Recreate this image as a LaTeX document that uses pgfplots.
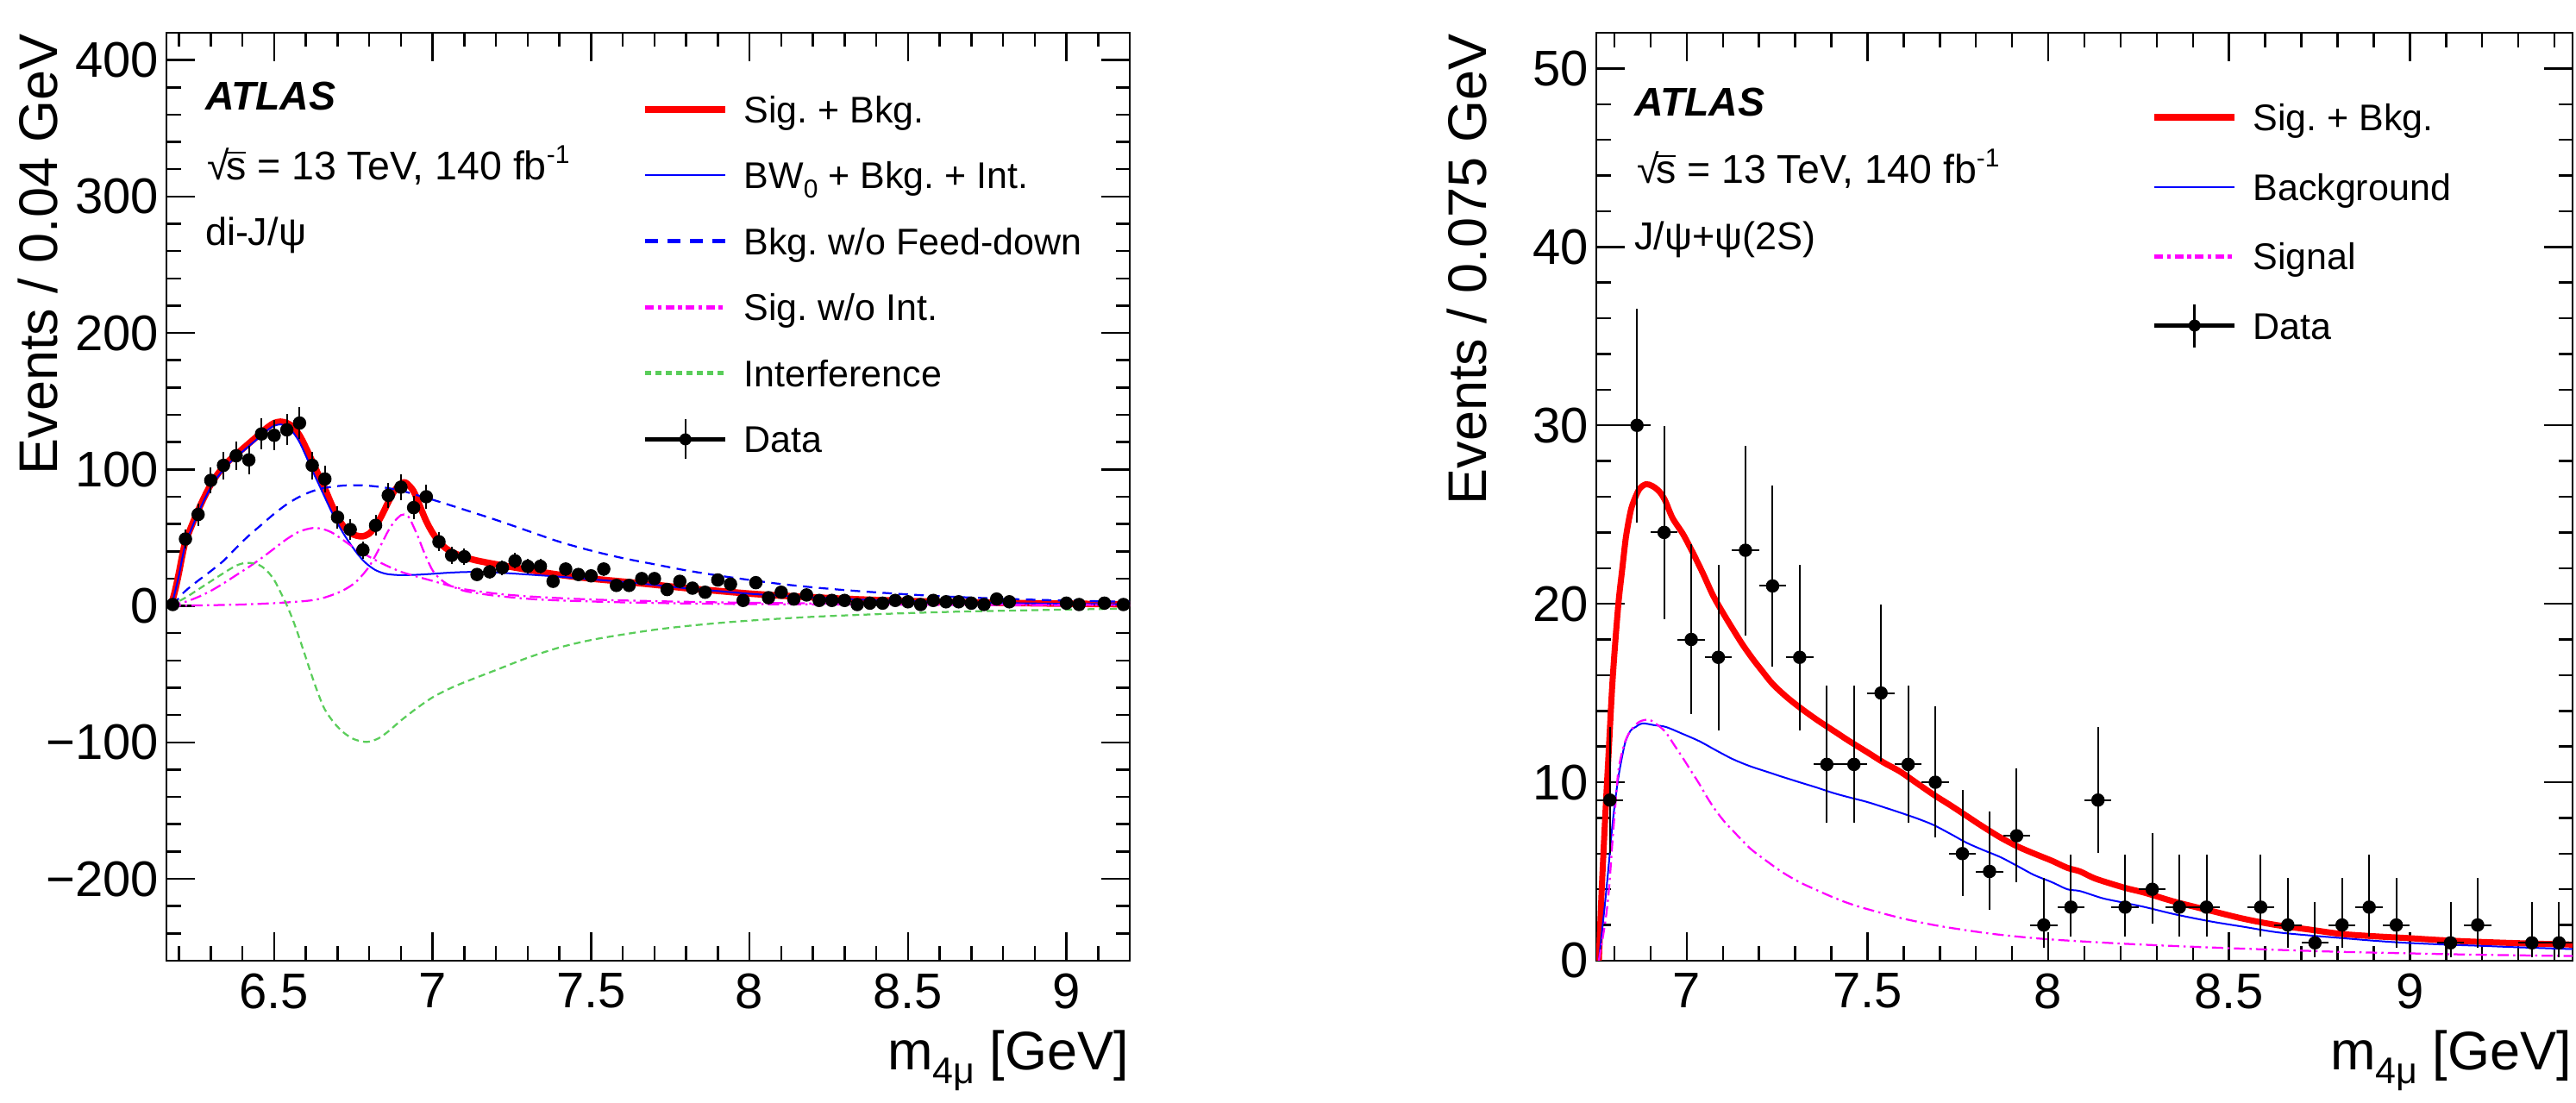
\documentclass[border=0pt]{standalone}
\usepackage{fontspec}
\setmainfont{Liberation Sans}
\usepackage{pgfplots}
\usepackage{pgfplotstable}
\pgfplotsset{compat=1.18}
\frenchspacing

\definecolor{rred}{RGB}{255,0,0}
\definecolor{rblue}{RGB}{0,0,255}
\definecolor{rmag}{RGB}{255,0,255}
\definecolor{rgreen}{RGB}{90,205,90}

\newcommand{\sqrts}{√\kern-0.7pt\vbox{\hrule height 0.45pt\kern 1.2pt\hbox{s}}}
\newcommand{\fAtlas}{\fontsize{9.3}{11}\selectfont}
\newcommand{\fEn}{\fontsize{9.3}{11}\selectfont}
\newcommand{\fCh}{\fontsize{9}{11}\selectfont}
\newcommand{\fLeg}{\fontsize{8.6}{10}\selectfont}
\newcommand{\fTick}{\fontsize{11.6}{13}\selectfont}
\newcommand{\fLab}{\fontsize{12.6}{14}\selectfont}

\pgfplotstableread{
x y ex ey
6.18 1 0.02 1
6.22 49 0.02 7.0
6.26 67 0.02 8.2
6.30 92 0.02 9.6
6.34 103 0.02 10.1
6.38 110 0.02 10.5
6.42 107 0.02 10.3
6.46 126 0.02 11.2
6.50 125 0.02 11.2
6.54 129 0.02 11.4
6.58 134 0.02 11.6
6.62 103 0.02 10.1
6.66 93 0.02 9.6
6.70 65 0.02 8.1
6.74 56 0.02 7.5
6.78 41 0.02 6.4
6.82 59 0.02 7.7
6.86 81 0.02 9.0
6.90 87 0.02 9.3
6.94 72 0.02 8.5
6.98 80 0.02 8.9
7.02 47 0.02 6.9
7.06 37 0.02 6.1
7.10 36 0.02 6.0
7.14 23 0.02 4.8
7.18 25 0.02 5.0
7.22 28 0.02 5.3
7.26 33 0.02 5.7
7.30 29 0.02 5.4
7.34 29 0.02 5.4
7.38 18 0.02 4.2
7.42 27 0.02 5.2
7.46 23 0.02 4.8
7.50 22 0.02 4.7
7.54 27 0.02 5.2
7.58 15 0.02 3.9
7.62 15 0.02 3.9
7.66 20 0.02 4.5
7.70 20 0.02 4.5
7.74 12 0.02 3.5
7.78 18 0.02 4.2
7.82 13 0.02 3.6
7.86 10 0.02 3.2
7.90 19 0.02 4.4
7.94 16 0.02 4.0
7.98 4 0.02 2.0
8.02 17 0.02 4.1
8.06 6 0.02 2.4
8.10 10 0.02 3.2
8.14 5 0.02 2.2
8.18 8 0.02 2.8
8.22 4 0.02 2.0
8.26 4 0.02 2.0
8.30 4 0.02 2.0
8.34 1 0.02 1.0
8.38 2 0.02 1.4
8.42 2 0.02 1.4
8.46 4 0.02 2.0
8.50 3 0.02 1.7
8.54 1 0.02 1.0
8.58 4 0.02 2.0
8.62 3 0.02 1.7
8.66 3 0.02 1.7
8.70 2 0.02 1.4
8.74 1 0.02 1.0
8.78 5 0.02 2.2
8.82 3 0.02 1.7
9.00 2 0.02 1.4
9.04 1 0.02 1.0
9.12 2 0.02 1.4
9.18 1 0.02 1.0
}\dijpsi

\pgfplotstableread{
x y ex em ep
6.7875 9 0.0375 2.94 4.11
6.8625 30 0.0375 5.44 6.53
6.9375 24 0.0375 4.86 5.96
7.0125 18 0.0375 4.20 5.32
7.0875 17 0.0375 4.08 5.20
7.1625 23 0.0375 4.76 5.86
7.2375 21 0.0375 4.54 5.65
7.3125 17 0.0375 4.08 5.20
7.3875 11 0.0375 3.27 4.42
7.4625 11 0.0375 3.27 4.42
7.5375 15 0.0375 3.83 4.95
7.6125 11 0.0375 3.27 4.42
7.6875 10 0.0375 3.11 4.27
7.7625 6 0.0375 2.38 3.58
7.8375 5 0.0375 2.16 3.38
7.9125 7 0.0375 2.58 3.77
7.9875 2 0.0375 1.29 2.64
8.0625 3 0.0375 1.63 2.92
8.1375 9 0.0375 2.94 4.11
8.2125 3 0.0375 1.63 2.92
8.2875 4 0.0375 1.91 3.16
8.3625 3 0.0375 1.63 2.92
8.4375 3 0.0375 1.63 2.92
8.5875 3 0.0375 1.63 2.92
8.6625 2 0.0375 1.29 2.64
8.7375 1 0.0375 0.83 2.30
8.8125 2 0.0375 1.29 2.64
8.8875 3 0.0375 1.63 2.92
8.9625 2 0.0375 1.29 2.64
9.1125 1 0.0375 0.83 2.30
9.1875 2 0.0375 1.29 2.64
9.3375 1 0.0375 0.83 2.30
9.4125 1 0.0375 0.83 2.30
}\jpsipsi

\pgfplotsset{
  atlasaxis/.style={
    scale only axis,
    axis line style={line width=0.5pt, black},
    tick align=inside, tick pos=both,
    major tick length=6.6pt, minor tick length=3.3pt,
    tick style={black, line width=0.5pt},
    /pgf/number format/assume math mode=true,
    ticklabel style={font=\fTick},
    xticklabel style={inner sep=0pt, anchor=north, yshift=-2.8pt},
    yticklabel style={inner sep=0pt, anchor=east, xshift=-1.6pt},
    every axis x label/.style={at={(rel axis cs:1,0)}, anchor=base east, inner sep=0pt, yshift=-25.4pt, font=\fLab},
    every axis y label/.style={at={(rel axis cs:-0.113,1)}, rotate=90, anchor=base east, inner sep=0pt, font=\fLab},
    legend cell align=left,
    legend image code/.code={\draw[##1,line cap=butt] (0pt,0pt) -- (18.6pt,0pt);},
    error bars/error mark=none,
  },
  datastyle/.style={only marks, mark=*, mark size=1.4pt, black, mark options={fill=black, line width=0.3pt},
    legend image code/.code={
      \draw[black,line width=0.9pt] (0pt,0pt) -- (18.6pt,0pt);
      \draw[black,line width=0.5pt,overlay] (9.3pt,-#1) -- (9.3pt,#1);
      \fill[black] (9.3pt,0pt) circle (1.2pt);
    }},
}

\begin{document}
\begin{tikzpicture}
\path[use as bounding box] (0pt,0pt) rectangle (597.4pt,255.8pt);

% ---------------- left panel ----------------
\begin{axis}[atlasaxis,
  at={(38.6pt,33pt)}, anchor=south west, width=223.4pt, height=215.2pt,
  xmin=6.16, xmax=9.2, ymin=-260, ymax=420,
  xtick={6.5,7,7.5,8,8.5,9}, xticklabels={6.5,7,7.5,8,8.5,9},
  minor xtick={6.2,6.3,6.4,6.6,6.7,6.8,6.9,7.1,7.2,7.3,7.4,7.6,7.7,7.8,7.9,8.1,8.2,8.3,8.4,8.6,8.7,8.8,8.9,9.1},
  ytick={-200,-100,0,100,200,300,400}, yticklabels={−200,−100,0,100,200,300,400},
  minor ytick={-240,-220,-180,-160,-140,-120,-80,-60,-40,-20,20,40,60,80,120,140,160,180,220,240,260,280,320,340,360,380},
  xlabel={m\raisebox{-3.2pt}{\fontsize{8.6}{9}\selectfont 4μ} [GeV]},
  ylabel={Events / 0.04 GeV},
  legend style={at={(0.4933,0.9317)}, anchor=north west, draw=none, fill=none, inner sep=0pt, outer sep=0pt,
    row sep=9.1pt, font=\fLeg, nodes={inner sep=0pt, text height=6.2pt, text depth=0pt},
    /tikz/every odd column/.append style={column sep=3.4pt}},
]
\addplot[rred, line width=1.5pt, smooth, tension=0.5, line join=round,
  legend image post style={line width=1.7pt}] coordinates {
(6.17,0) (6.18,5) (6.19,14) (6.20,25) (6.21,37) (6.22,47) (6.24,59) (6.26,70) (6.28,80) (6.30,89)
(6.32,96) (6.34,102) (6.36,107) (6.38,111) (6.40,115) (6.42,119) (6.44,123) (6.46,127) (6.48,131)
(6.50,134) (6.52,135) (6.54,134) (6.56,131) (6.58,125) (6.60,116) (6.62,106) (6.64,96) (6.66,86)
(6.68,75) (6.70,65) (6.72,58) (6.74,53.5) (6.76,51.5) (6.78,51) (6.80,53) (6.82,58.5) (6.84,66.5)
(6.86,76) (6.88,84.5) (6.90,89.5) (6.91,90.5) (6.92,89.5) (6.94,84) (6.96,73) (6.98,62) (7.00,53.5)
(7.02,47) (7.04,42.5) (7.06,39.5) (7.08,37.5) (7.10,35.7) (7.14,33.2) (7.20,30.5) (7.30,26.5)
(7.40,22.8) (7.50,20) (7.60,17.8) (7.70,15.5) (7.80,13) (7.90,11) (8.00,9) (8.10,7.5) (8.20,6.3)
(8.30,5.2) (8.40,4.3) (8.50,3.6) (8.60,3.0) (8.70,2.6) (8.80,2.2) (8.90,1.9) (9.00,1.6) (9.10,1.4) (9.20,1.2)};
\addlegendentry{Sig. + Bkg.}
\addplot[rblue, line width=0.4pt, smooth, tension=0.5] coordinates {
(6.17,0) (6.18,4) (6.19,13) (6.20,23) (6.21,35) (6.22,45) (6.24,57) (6.26,68) (6.28,78) (6.30,87)
(6.32,94) (6.34,100) (6.36,105) (6.38,109) (6.40,113) (6.42,117) (6.44,121) (6.46,125) (6.48,129)
(6.50,132) (6.52,133) (6.54,131.5) (6.56,127) (6.58,120) (6.60,110) (6.62,99.5) (6.64,89.5) (6.66,79.5)
(6.68,69.5) (6.70,60.5) (6.72,52.5) (6.74,45.5) (6.76,39) (6.78,33.5) (6.80,29.3) (6.82,26.2) (6.84,24.3)
(6.86,23.2) (6.90,22.5) (6.95,22.8) (7.00,23.5) (7.05,24.3) (7.10,24.8) (7.15,24.9) (7.20,24.5) (7.30,23)
(7.40,21.4) (7.50,19.5) (7.60,17.6) (7.70,15.4) (7.80,12.9) (7.90,10.9) (8.00,8.9) (8.10,7.4) (8.20,6.2)
(8.30,5.1) (8.40,4.2) (8.50,3.5) (8.60,2.9) (8.70,2.5) (8.80,2.1) (8.90,1.8) (9.00,1.5) (9.10,1.3) (9.20,1.1)};
\addlegendentry{BW\raisebox{-2.2pt}{\fontsize{6}{7}\selectfont 0} + Bkg. + Int.}
\addplot[rblue, line width=0.45pt, dash pattern=on 2.2pt off 1.5pt, smooth, tension=0.5,
  legend image post style={line width=1pt, dash pattern=on 3pt off 2.2pt}] coordinates {
(6.18,0) (6.20,6) (6.22,11) (6.26,18.5) (6.30,25.5) (6.34,33) (6.38,42.5) (6.42,51.5) (6.46,59.5)
(6.50,67.5) (6.54,74.5) (6.58,80) (6.62,84) (6.66,86.5) (6.72,88.2) (6.78,88.3) (6.84,87) (6.90,84.5)
(6.95,81.2) (7.00,77.8) (7.05,74.2) (7.10,70.5) (7.20,63) (7.30,55) (7.40,47) (7.50,40.5) (7.60,35)
(7.70,30.5) (7.80,26) (7.90,22.3) (8.00,19) (8.10,16) (8.20,13.6) (8.30,11.6) (8.40,9.9) (8.50,8.4)
(8.60,7.1) (8.70,6.1) (8.80,5.2) (8.90,4.5) (9.00,3.9) (9.10,3.4) (9.20,3.0)};
\addlegendentry{Bkg. w/o Feed-down}
\addplot[rmag, line width=0.45pt, dash pattern=on 2.6pt off 1pt on 0.5pt off 1pt, smooth, tension=0.5,
  legend image post style={line width=1pt, dash pattern=on 2pt off 0.9pt on 0.9pt off 0.9pt}] coordinates {
(6.17,0) (6.22,3) (6.26,6.5) (6.30,11) (6.34,16.5) (6.38,22.5) (6.42,28.5) (6.46,35) (6.50,42) (6.54,49)
(6.58,54.5) (6.62,57) (6.65,56.5) (6.68,54) (6.71,49.5) (6.75,43) (6.80,36) (6.85,30) (6.90,25) (6.95,21.5)
(7.00,18.3) (7.05,15) (7.10,12.2) (7.20,9) (7.30,7) (7.40,5.7) (7.50,4.7) (7.60,4) (7.80,3) (8.00,2.3)
(8.30,1.6) (8.60,1.2) (9.00,0.8) (9.20,0.7)};
\addlegendentry{Sig. w/o Int.}
\addplot[rmag, line width=0.45pt, dash pattern=on 2.6pt off 1pt on 0.5pt off 1pt, smooth, tension=0.5, forget plot] coordinates {
(6.17,0) (6.30,0.5) (6.40,1) (6.50,2) (6.60,3.6) (6.65,5.5) (6.70,9.5) (6.73,13) (6.755,17) (6.78,23)
(6.80,29) (6.82,37) (6.84,46) (6.86,55) (6.88,62) (6.90,66.5) (6.91,67) (6.925,65) (6.94,58) (6.955,50)
(6.97,41) (6.985,33) (7.00,26) (7.02,20.5) (7.05,15.5) (7.10,11) (7.15,9) (7.20,7.4) (7.30,5.2) (7.40,4)
(7.60,2.6) (7.80,1.8) (8.00,1.3) (8.50,0.8) (9.20,0.4)};
\addplot[rgreen, line width=0.45pt, dash pattern=on 1.6pt off 1pt, smooth, tension=0.5,
  legend image post style={line width=1pt, dash pattern=on 1.4pt off 1pt}] coordinates {
(6.17,0) (6.22,6) (6.26,12) (6.30,18) (6.34,24) (6.38,29.5) (6.41,31.5) (6.44,31) (6.46,29) (6.48,25)
(6.50,19) (6.52,10) (6.535,3) (6.55,-5) (6.565,-14) (6.58,-24) (6.60,-38) (6.62,-52) (6.64,-65) (6.66,-76)
(6.69,-86) (6.72,-93) (6.75,-97.5) (6.78,-99.5) (6.80,-99.5) (6.83,-97) (6.86,-92) (6.90,-84) (6.95,-75)
(7.00,-67) (7.05,-61) (7.10,-56) (7.20,-47) (7.30,-38) (7.40,-30.5) (7.50,-25) (7.60,-21) (7.70,-17.5)
(7.80,-14.8) (7.90,-12.6) (8.00,-10.8) (8.10,-9.3) (8.20,-8) (8.30,-7) (8.40,-6.1) (8.50,-5.3) (8.60,-4.6)
(8.70,-4) (8.80,-3.6) (8.90,-3.1) (9.00,-2.7) (9.10,-2.3) (9.20,-2)};
\addlegendentry{Interference}
\addplot[datastyle=4.6pt,
  error bars/.cd, x dir=both, x explicit, y dir=both, y explicit,
  error bar style={line width=0.4pt, black}]
  table[x=x, y=y, x error=ex, y error=ey]{\dijpsi};
\addlegendentry{Data}
\end{axis}

% ---------------- right panel ----------------
\begin{axis}[atlasaxis,
  at={(370.2pt,33pt)}, anchor=south west, width=226.4pt, height=215.2pt,
  xmin=6.75, xmax=9.45, ymin=0, ymax=52,
  xtick={7,7.5,8,8.5,9}, xticklabels={7,7.5,8,8.5,9},
  minor xtick={6.8,6.9,7.1,7.2,7.3,7.4,7.6,7.7,7.8,7.9,8.1,8.2,8.3,8.4,8.6,8.7,8.8,8.9,9.1,9.2,9.3,9.4},
  ytick={0,10,20,30,40,50},
  minor ytick={2,4,6,8,12,14,16,18,22,24,26,28,32,34,36,38,42,44,46,48,52},
  xlabel={m\raisebox{-3.2pt}{\fontsize{8.6}{9}\selectfont 4μ} [GeV]},
  ylabel={Events / 0.075 GeV},
  legend style={at={(0.568,0.9233)}, anchor=north west, draw=none, fill=none, inner sep=0pt, outer sep=0pt,
    row sep=9.9pt, font=\fLeg, nodes={inner sep=0pt, text height=6.2pt, text depth=0pt},
    /tikz/every odd column/.append style={column sep=3.4pt}},
]
\addplot[rred, line width=1.4pt, smooth, tension=0.5, line join=round,
  legend image post style={line width=1.7pt}] coordinates {
(6.757,0) (6.765,4) (6.775,8.2) (6.785,12) (6.794,15.4) (6.803,18) (6.812,20.2) (6.822,22) (6.831,23.6)
(6.84,24.7) (6.849,25.5) (6.868,26.4) (6.887,26.7) (6.905,26.6) (6.924,26.3) (6.94,25.8) (6.961,24.8)
(6.99,23.9) (7.016,22.9) (7.045,21.7) (7.072,20.5) (7.10,19.5) (7.127,18.6) (7.155,17.7) (7.183,16.9)
(7.21,16.2) (7.238,15.5) (7.275,14.8) (7.312,14.2) (7.36,13.5) (7.405,12.9) (7.45,12.3) (7.498,11.7)
(7.545,11.1) (7.59,10.6) (7.64,9.9) (7.683,9.3) (7.73,8.7) (7.775,8.1) (7.82,7.5) (7.868,6.9) (7.915,6.4)
(7.961,6.0) (8.01,5.6) (8.053,5.2) (8.088,5.0) (8.13,4.6) (8.209,4.1) (8.268,3.8) (8.35,3.3) (8.449,2.8)
(8.54,2.35) (8.63,2.0) (8.72,1.75) (8.81,1.5) (8.9,1.37) (8.991,1.27) (9.08,1.16) (9.172,1.07) (9.30,0.98) (9.45,0.9)};
\addlegendentry{Sig. + Bkg.}
\addplot[rblue, line width=0.4pt, smooth, tension=0.5] coordinates {
(6.757,0) (6.765,1.5) (6.775,3.4) (6.785,5.5) (6.794,7.5) (6.803,9.1) (6.812,10.4) (6.822,11.5) (6.831,12.3)
(6.845,12.9) (6.859,13.1) (6.877,13.3) (6.91,13.2) (6.942,13.1) (6.99,12.7) (7.035,12.3) (7.08,11.8)
(7.127,11.3) (7.175,10.9) (7.22,10.6) (7.265,10.3) (7.312,10.0) (7.36,9.7) (7.405,9.4) (7.45,9.15)
(7.498,8.9) (7.545,8.6) (7.59,8.3) (7.64,7.95) (7.683,7.6) (7.73,7.1) (7.775,6.6) (7.82,6.2) (7.868,5.8)
(7.915,5.3) (7.961,4.8) (8.01,4.4) (8.053,4.0) (8.088,3.9) (8.15,3.5) (8.209,3.25) (8.268,3.0) (8.35,2.6)
(8.449,2.2) (8.54,1.9) (8.63,1.6) (8.72,1.42) (8.81,1.27) (8.9,1.12) (8.99,1.0) (9.1,0.9) (9.2,0.83) (9.3,0.75) (9.45,0.65)};
\addlegendentry{Background}
\addplot[rmag, line width=0.45pt, dash pattern=on 2.6pt off 1pt on 0.5pt off 1pt, smooth, tension=0.5,
  legend image post style={line width=1pt, dash pattern=on 2pt off 0.9pt on 0.9pt off 0.9pt}] coordinates {
(6.757,0) (6.775,2.2) (6.785,4) (6.794,6.5) (6.803,8.8) (6.812,10.8) (6.83,12.3) (6.849,13) (6.87,13.4)
(6.896,13.5) (6.92,13.2) (6.942,12.8) (6.965,12.1) (6.988,11.4) (7.01,10.7) (7.035,9.9) (7.058,9.1)
(7.081,8.4) (7.104,7.8) (7.127,7.3) (7.175,6.3) (7.22,5.6) (7.265,4.95) (7.312,4.4) (7.36,3.95) (7.405,3.55)
(7.45,3.2) (7.498,2.9) (7.59,2.4) (7.683,2.0) (7.775,1.7) (7.868,1.45) (8.0,1.2) (8.209,0.95) (8.4,0.78)
(8.6,0.63) (8.8,0.5) (9.0,0.41) (9.2,0.33) (9.45,0.26)};
\addlegendentry{Signal}
\addplot[datastyle=5pt,
  error bars/.cd, x dir=both, x explicit, y dir=both, y explicit,
  error bar style={line width=0.4pt, black}]
  table[x=x, y=y, x error=ex, y error plus=ep, y error minus=em]{\jpsipsi};
\addlegendentry{Data}
\end{axis}

% ---------------- text labels ----------------
\node[anchor=base west, inner sep=0pt, font=\fAtlas] at (47.4pt,230.2pt) {\textbf{\textit{ATLAS}}};
\node[anchor=base west, inner sep=0pt, font=\fEn] at (47.8pt,214pt) {\sqrts\ = 13 TeV, 140 fb\raisebox{3.8pt}{\fontsize{6}{7}\selectfont -1}};
\node[anchor=base west, inner sep=0pt, font=\fCh] at (47.4pt,198.8pt) {di-J/ψ};

\node[anchor=base west, inner sep=0pt, font=\fAtlas] at (378.8pt,228.8pt) {\textbf{\textit{ATLAS}}};
\node[anchor=base west, inner sep=0pt, font=\fEn] at (379.4pt,213.2pt) {\sqrts\ = 13 TeV, 140 fb\raisebox{3.8pt}{\fontsize{6}{7}\selectfont -1}};
\node[anchor=base west, inner sep=0pt, font=\fCh] at (378.8pt,197.8pt) {J/ψ+ψ(2S)};
\end{tikzpicture}
\end{document}
